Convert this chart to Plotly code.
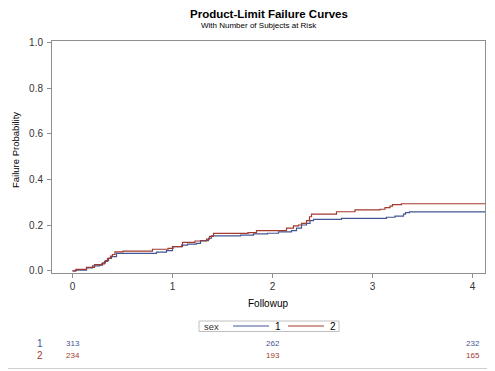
import plotly.graph_objects as go

# ---- data ----
groups = ["1", "2"]
t_sex1 = [0, 0.03, 0.14, 0.2, 0.27, 0.3, 0.33, 0.36, 0.39, 0.44, 0.84, 0.94, 1.0, 1.09, 1.15, 1.24,
          1.28, 1.36, 1.39, 1.68, 1.81, 1.95, 2.06, 2.19, 2.24, 2.29, 2.34, 2.375, 2.41, 2.69, 3.14,
          3.225, 3.31, 3.33, 3.37, 4.125]
f_sex1 = [0, 0.004, 0.013, 0.022, 0.025, 0.035, 0.045, 0.055, 0.063, 0.077, 0.082, 0.089, 0.106,
          0.113, 0.117, 0.121, 0.133, 0.143, 0.153, 0.157, 0.162, 0.165, 0.171, 0.176, 0.187, 0.201,
          0.208, 0.22, 0.226, 0.23, 0.235, 0.24, 0.249, 0.255, 0.258, 0.258]
t_sex2 = [0, 0.035, 0.14, 0.22, 0.29, 0.32, 0.35, 0.38, 0.4, 0.425, 0.505, 0.8, 0.955, 1.005, 1.1,
          1.225, 1.34, 1.37, 1.41, 1.755, 1.84, 2.14, 2.21, 2.26, 2.29, 2.34, 2.37, 2.39, 2.64,
          2.825, 3.075, 3.125, 3.175, 3.2, 3.29, 4.125]
f_sex2 = [0, 0.007, 0.016, 0.028, 0.031, 0.042, 0.055, 0.065, 0.072, 0.083, 0.087, 0.095, 0.099,
          0.106, 0.125, 0.131, 0.139, 0.151, 0.164, 0.168, 0.176, 0.187, 0.197, 0.201, 0.208, 0.22,
          0.237, 0.249, 0.259, 0.267, 0.27, 0.277, 0.284, 0.29, 0.294, 0.294]
risk_times = [0, 2, 4]
risk_sex1 = [313, 262, 232]
risk_sex2 = [234, 193, 165]
x_ticks = [0, 1, 2, 3, 4]
y_ticks = [0.0, 0.2, 0.4, 0.6, 0.8, 1.0]

BLUE = "#445694"
RED = "#A23A2E"
FONT = "Liberation Sans, Arial, sans-serif"

# page offset (browser body margin) and plot-area geometry in page pixels
OFF = 8
FW, FH = 495 - OFF, 371 - OFF
L, R, T, B = 52, 485, 41, 273
W, H = R - L, B - T


def px(x):
    return (x - L) / W


def py(y):
    return (B - y) / H


colors = [BLUE, RED]
fig = go.Figure()
for g, t, f, c in zip(groups, [t_sex1, t_sex2], [f_sex1, f_sex2], colors):
    fig.add_trace(go.Scatter(x=t, y=f, mode="lines", line=dict(shape="hv", color=c, width=1.2),
                             name=g, showlegend=False))

# at-risk table
for lab, vals, col, yy in [(groups[0], risk_sex1, BLUE, 344), (groups[1], risk_sex2, RED, 355)]:
    fig.add_annotation(x=px(40), y=py(yy), xref="paper", yref="paper", text=lab, showarrow=False,
                       font=dict(size=10, color=col, family=FONT), xanchor="center", yanchor="middle")
    for t, v in zip(risk_times, vals):
        fig.add_annotation(x=t, y=py(yy), xref="x", yref="paper", text=str(v), showarrow=False,
                           font=dict(size=8, color=col, family=FONT), xanchor="center", yanchor="middle")

# legend (drawn)
fig.add_shape(type="rect", xref="paper", yref="paper", x0=px(199), x1=px(339), y0=py(321), y1=py(331.5),
              line=dict(color="#c0c0c0", width=1), fillcolor="white")
fig.add_annotation(x=px(202), y=py(326), xref="paper", yref="paper", text="sex", showarrow=False,
                   font=dict(size=9.5, color="#333", family=FONT), xanchor="left", yanchor="middle")
for g, c, x0 in zip(groups, colors, [233, 288]):
    fig.add_shape(type="line", xref="paper", yref="paper", x0=px(x0), x1=px(x0 + 36), y0=py(326), y1=py(326),
                  line=dict(color=c, width=1.2))
    fig.add_annotation(x=px(x0 + 40), y=py(326), xref="paper", yref="paper", text=g, showarrow=False,
                       font=dict(size=10, color="#000", family=FONT), xanchor="left", yanchor="middle")

# titles
fig.add_annotation(x=px(269), y=py(14), xref="paper", yref="paper",
                   text="<b>Product-Limit Failure Curves</b>", showarrow=False,
                   font=dict(size=11.5, color="#000", family=FONT), xanchor="center", yanchor="middle")
fig.add_annotation(x=px(258.5), y=py(26), xref="paper", yref="paper",
                   text="With Number of Subjects at Risk", showarrow=False,
                   font=dict(size=8, color="#000", family=FONT), xanchor="center", yanchor="middle")
fig.add_annotation(x=px(268), y=py(303), xref="paper", yref="paper",
                   text="Followup", showarrow=False,
                   font=dict(size=10, color="#000", family=FONT), xanchor="center", yanchor="middle")
fig.add_annotation(x=px(15), y=py(150), xref="paper", yref="paper",
                   text="Failure Probability", showarrow=False, textangle=-90,
                   font=dict(size=9.5, color="#000", family=FONT), xanchor="center", yanchor="middle")

# outer frame lines (right and bottom)
fig.add_shape(type="line", xref="paper", yref="paper", x0=px(492.5), x1=px(492.5),
              y0=py(368.5), y1=py(OFF), line=dict(color="#d0d0d0", width=1))
fig.add_shape(type="line", xref="paper", yref="paper", x0=px(OFF), x1=px(492.5),
              y0=py(368.5), y1=py(368.5), line=dict(color="#d0d0d0", width=1))

axis_common = dict(showline=True, linecolor="#8f8f8f", linewidth=1, mirror=True, ticks="outside",
                   ticklen=4, tickcolor="#8f8f8f", showgrid=False, zeroline=False, automargin=False,
                   tickfont=dict(size=10, color="#333", family=FONT))
fig.update_xaxes(range=[-0.205, 4.125], tickvals=x_ticks, ticktext=[str(v) for v in x_ticks],
                 **axis_common)
fig.update_yaxes(range=[-0.009, 1.006], tickvals=y_ticks, tickformat=".1f", ticklabelstandoff=2,
                 **axis_common)

fig.update_layout(
    width=FW, height=FH,
    margin=dict(l=L - OFF, r=495 - R, t=T - OFF, b=371 - B, autoexpand=False),
    paper_bgcolor="white", plot_bgcolor="white",
    font=dict(family=FONT, size=10, color="#000"),
    showlegend=False,
)

fig.write_html("out.html")
